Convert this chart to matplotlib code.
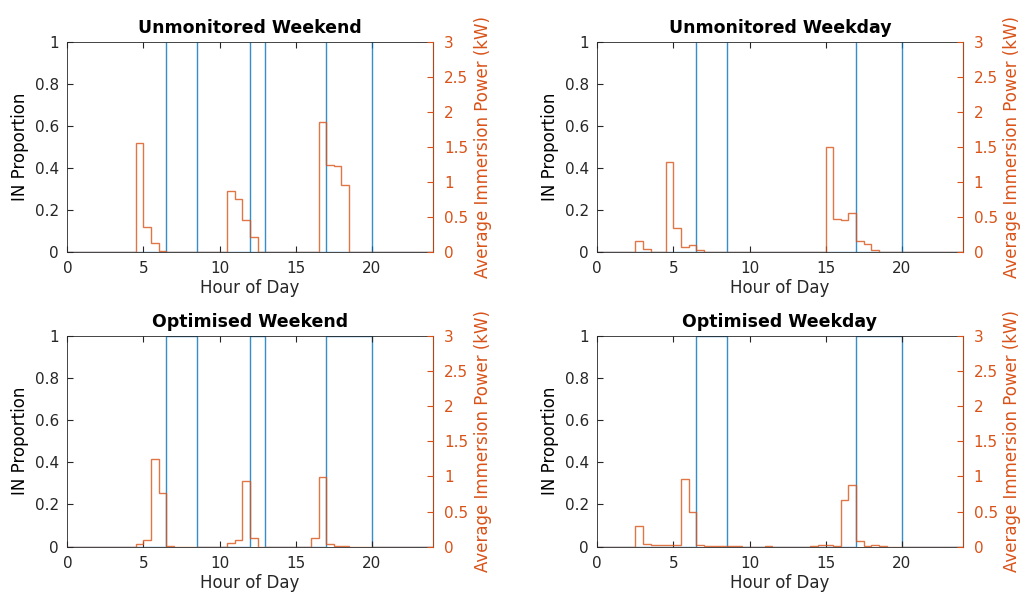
import numpy as np
import matplotlib
matplotlib.use('Agg')
import matplotlib.pyplot as plt

plt.rcParams['font.family'] = ['DejaVu Sans']

# half-hour bins, 0..24 h
edges = np.arange(0, 24.5, 0.5)

titles = ['Unmonitored Weekend', 'Unmonitored Weekday',
          'Optimised Weekend', 'Optimised Weekday']

# peak windows as (start hour, end hour)
peaks_weekend = [(6.5, 8.5), (12, 13), (17, 20)]
peaks_weekday = [(6.5, 8.5), (17, 20)]

# IN proportion inside the peak windows (unmonitored: markers only, 0)
in_level = [0, 0, 1, 1]

# average immersion power (kW) per half-hour, listed as {start hour: value}
unmon_weekend = {4.5: 1.56, 5: 0.35, 5.5: 0.12, 6: 0.01,
                 10.5: 0.87, 11: 0.75, 11.5: 0.45, 12: 0.21,
                 16.5: 1.85, 17: 1.24, 17.5: 1.23, 18: 0.96}
unmon_weekday = {2.5: 0.16, 3: 0.04,
                 4.5: 1.28, 5: 0.34, 5.5: 0.07, 6: 0.10, 6.5: 0.03,
                 15: 1.50, 15.5: 0.47, 16: 0.45, 16.5: 0.56,
                 17: 0.15, 17.5: 0.11, 18: 0.03}
opt_weekend = {4.5: 0.04, 5: 0.10, 5.5: 1.25, 6: 0.77, 6.5: 0.01,
               10.5: 0.05, 11: 0.10, 11.5: 0.94, 12: 0.13,
               16: 0.13, 16.5: 0.99, 17: 0.04, 17.5: 0.008, 18: 0.008}
opt_weekday = {2.5: 0.30, 3: 0.04, 3.5: 0.03, 4: 0.02, 4.5: 0.02, 5: 0.02,
               5.5: 0.96, 6: 0.50, 6.5: 0.03, 7: 0.003, 7.5: 0.003, 8: 0.003,
               8.5: 0.01, 9: 0.005, 11: 0.005,
               14: 0.01, 14.5: 0.02, 15: 0.03, 15.5: 0.01,
               16: 0.67, 16.5: 0.88, 17: 0.085, 17.5: 0.005, 18: 0.02, 18.5: 0.005}

power_data = [unmon_weekend, unmon_weekday, opt_weekend, opt_weekday]
peak_data = [peaks_weekend, peaks_weekday, peaks_weekend, peaks_weekday]

blue = '#0072BD'
orange = '#D95319'
axcol = '#262626'

positions = [[0.0657, 0.5755, 0.3565, 0.3541],
             [0.5827, 0.5755, 0.3565, 0.3541],
             [0.0657, 0.0781, 0.3565, 0.3558],
             [0.5827, 0.0781, 0.3565, 0.3558]]


def to_bins(d):
    v = np.zeros(len(edges) - 1)
    for h, val in d.items():
        v[int(round(h * 2))] = val
    return v


def peak_bins(windows, level):
    v = np.zeros(len(edges) - 1)
    for a, b in windows:
        v[int(a * 2):int(b * 2)] = level
    return v


fig = plt.figure(figsize=(10.25, 5.93), dpi=100)

for i in range(4):
    ax = fig.add_axes(positions[i])
    ax.stairs(peak_bins(peak_data[i], in_level[i]), edges, color=blue, lw=1,
              baseline=None, alpha=0.8)
    if in_level[i] == 0:
        # vertical markers at window boundaries
        bounds = [h for w in peak_data[i] for h in w]
        ax.vlines(bounds, 0, 1, color=blue, lw=1, alpha=0.8)
    ax.set_xlim(0, 24)
    ax.set_ylim(0, 1)
    ax.set_xticks([0, 5, 10, 15, 20])
    ax.set_yticks([0, 0.2, 0.4, 0.6, 0.8, 1])
    ax.set_yticklabels(['0', '0.2', '0.4', '0.6', '0.8', '1'])
    ax.tick_params(direction='in', top=True, right=False, labelsize=11,
                   colors=axcol, length=4)
    ax.tick_params(axis='x', pad=7)
    ax.tick_params(axis='y', pad=6)
    ax.set_xlabel('Hour of Day', fontsize=12, color=axcol, labelpad=2)
    ax.set_ylabel('IN Proportion', fontsize=12, color='black', labelpad=4)
    ax.set_title(titles[i], fontsize=12.5, fontweight='bold', pad=6)
    for s in ['left', 'bottom', 'top']:
        ax.spines[s].set_color(axcol)
        ax.spines[s].set_linewidth(0.6)
        ax.spines[s].set_zorder(5)

    ax2 = ax.twinx()
    ax2.stairs(to_bins(power_data[i]), edges, color=orange, lw=1, alpha=0.8,
               baseline=None)
    ax2.set_ylim(0, 3)
    ax2.set_yticks([0, 0.5, 1, 1.5, 2, 2.5, 3])
    ax2.set_yticklabels(['0', '0.5', '1', '1.5', '2', '2.5', '3'])
    ax2.tick_params(direction='in', labelsize=11, colors=orange, length=4,
                    pad=8)
    ax2.set_ylabel('Average Immersion Power (kW)', fontsize=12, color=orange,
                   labelpad=4)
    ax2.spines['right'].set_color(orange)
    ax2.spines['right'].set_linewidth(0.6)
    ax2.spines['left'].set_visible(False)
    ax2.spines['top'].set_visible(False)
    ax2.spines['bottom'].set_visible(False)

fig.savefig('out.png', dpi=100)
